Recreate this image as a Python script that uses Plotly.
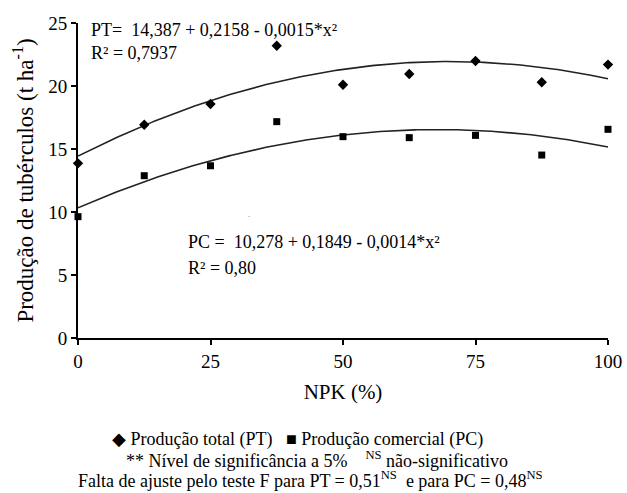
import numpy as np
import plotly.graph_objects as go

npk = [0, 12.5, 25, 37.5, 50, 62.5, 75, 87.5, 100]
pt = [13.86, 16.93, 18.57, 23.2, 20.1, 20.95, 21.98, 20.3, 21.7]
pc = [9.63, 12.88, 13.67, 17.17, 15.98, 15.9, 16.08, 14.52, 16.56]
x_ticks = [0, 25, 50, 75, 100]
y_ticks = [0, 5, 10, 15, 20, 25]

FONT = "Liberation Serif"

xs = np.linspace(0, 100, 201)
cpt = np.polyfit(npk, pt, 2)
cpc = np.polyfit(npk, pc, 2)

fig = go.Figure()
fig.add_trace(go.Scatter(x=xs, y=np.polyval(cpt, xs), mode="lines",
                         line=dict(color="#222", width=1.6), showlegend=False, hoverinfo="skip"))
fig.add_trace(go.Scatter(x=xs, y=np.polyval(cpc, xs), mode="lines",
                         line=dict(color="#222", width=1.6), showlegend=False, hoverinfo="skip"))
fig.add_trace(go.Scatter(x=npk, y=pt, mode="markers", name="Produção total (PT)",
                         marker=dict(symbol="diamond", size=8, color="black"), cliponaxis=False,
                         showlegend=False))
fig.add_trace(go.Scatter(x=npk, y=pc, mode="markers", name="Produção comercial (PC)",
                         marker=dict(symbol="square", size=7, color="black"), cliponaxis=False,
                         showlegend=False))

axis_common = dict(showline=True, linecolor="black", linewidth=2, ticks="outside",
                   ticklen=5, tickwidth=1.5, tickcolor="black", showgrid=False,
                   zeroline=False, automargin=False,
                   tickfont=dict(family=FONT, size=19, color="black"))

fig.update_xaxes(range=[0, 100], tickvals=x_ticks,
                 title=dict(text="NPK (%)", font=dict(family=FONT, size=21, color="black"), standoff=14),
                 **axis_common)
fig.update_yaxes(range=[0, 25], tickvals=y_ticks,
                 title=dict(text="Produção de tubérculos (t ha<sup>-1</sup>)",
                            font=dict(family=FONT, size=23, color="black"), standoff=8),
                 **axis_common)

def px(xp, yp):
    return (xp - 78) / 530, (338 - yp) / 315

ann_font = dict(family=FONT, size=18, color="black")
anns = [
    dict(x=89, y=30, text="PT=  14,387 + 0,2158 - 0,0015*x²"),
    dict(x=89, y=53, text="R² = 0,7937"),
    dict(x=186, y=242, text="PC =  10,278 + 0,1849 - 0,0014*x²"),
    dict(x=186, y=268, text="R² = 0,80"),
]
for a in anns:
    ax, ay = px(a["x"], a["y"])
    fig.add_annotation(x=ax, y=ay, xref="paper", yref="paper",
                       text=a["text"], showarrow=False, xanchor="left", yanchor="middle",
                       font=ann_font)

# small stray dot visible in the reference
dx, dy = px(246, 214)
fig.add_annotation(x=dx, y=dy, xref="paper", yref="paper", text=".", showarrow=False,
                   font=dict(family=FONT, size=9, color="#555"))

foot_font = dict(family=FONT, size=18, color="black")
foot = [
    dict(x=110, y=439, text="◆ Produção total (PT)   ■ Produção comercial (PC)"),
    dict(x=124, y=459, text="** Nível de significância a 5%    <sup>NS</sup> não-significativo"),
    dict(x=76, y=479, text="Falta de ajuste pelo teste F para PT = 0,51<sup>NS</sup>  e para PC = 0,48<sup>NS</sup>"),
]
for a in foot:
    ax, ay = px(a["x"], a["y"])
    fig.add_annotation(x=ax, y=ay, xref="paper", yref="paper",
                       text=a["text"], showarrow=False, xanchor="left", yanchor="middle",
                       font=foot_font)

fig.update_layout(
    width=627, height=493,
    margin=dict(l=78, r=19, t=23, b=155),
    plot_bgcolor="white", paper_bgcolor="white",
    showlegend=False,
    font=dict(family=FONT),
)

fig.write_html("out.html", config={"displayModeBar": False},
               post_script="document.body.style.margin='0';document.body.style.padding='0';")
